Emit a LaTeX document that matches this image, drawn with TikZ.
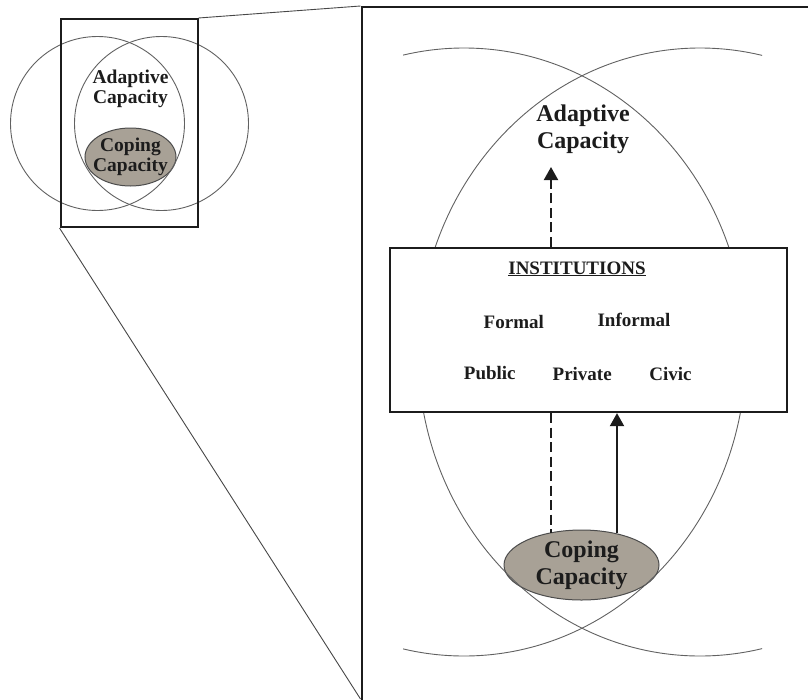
\documentclass[tikz,border=0pt]{standalone}
\usepackage{fontspec}
\setmainfont{Liberation Serif}
\usetikzlibrary{shapes.geometric,arrows.meta}
\definecolor{taupe}{HTML}{A8A196}
\definecolor{ink}{HTML}{1C1C1C}
\begin{document}
\begin{tikzpicture}[x=1pt,y=-1pt,
  circ/.style={draw=black!62, line width=0.9pt},
  frame/.style={draw=ink, line width=2.3pt, inner sep=0pt},
  link/.style={draw=black!72, line width=0.9pt},
  copfill/.style={ellipse, fill=taupe, draw=black!70, line width=1pt, inner sep=0pt},
  smalltxt/.style={font=\bfseries\fontsize{19.5}{20.5}\selectfont, align=center, inner sep=0pt, text=ink},
  bigtxt/.style={font=\bfseries\fontsize{24}{27}\selectfont, align=center, inner sep=0pt, text=ink},
  boxtxt/.style={font=\bfseries\fontsize{19}{21}\selectfont, inner sep=0pt, anchor=base, text=ink},
  flow/.style={draw=ink, line width=2pt},
  dashflow/.style={draw=ink, line width=2pt, dash pattern=on 10pt off 4.5pt},
  tip/.style={-{Triangle[length=13pt,width=14pt]}}
]
\useasboundingbox (0,0) rectangle (808,699);

% ---------- small overview ----------
\node[copfill, minimum width=91pt, minimum height=58pt] (sc) at (130.5,157) {};
\node[smalltxt] (sctxt) at (sc.center) {Coping\\Capacity};
\node[circ, circle, minimum size=174pt, inner sep=0pt] (lc) at (97.5,123.5) {};
\node[circ, circle, minimum size=174pt, inner sep=0pt] (rc) at (161.5,123.5) {};
\node[smalltxt] (satxt) at (130.5,89) {Adaptive\\Capacity};
\node[frame, line width=2pt, minimum width=137pt, minimum height=208pt, anchor=north west] (zoom) at (59.5,18) {};

% ---------- enlarged view ----------
\node[frame, minimum width=456pt, minimum height=720pt, anchor=north west] (big) at (360.5,6) {};
\coordinate (corner) at (360.5,699);
\draw[link] (zoom.north east) -- (big.north west);
\draw[link] (zoom.south west) -- (corner);

\begin{scope}
  \clip (403,0) rectangle (762,699);
  \draw[circ] (464,352) ellipse [x radius=282pt, y radius=304pt];
  \draw[circ] (700,352) ellipse [x radius=282pt, y radius=304pt];
\end{scope}

\node[frame, fill=white, minimum width=397pt, minimum height=164pt] (inst) at (588.5,330) {};
\node[boxtxt] (ttl) at (577,274) {\underline{INSTITUTIONS}};
\node[boxtxt] (formal) at (513.8,328) {Formal};
\node[boxtxt] (informal) at (634,326.7) {Informal};
\node[boxtxt] (public) at (489.8,379) {Public};
\node[boxtxt] (private) at (582.2,380) {Private};
\node[boxtxt] (civic) at (670.5,380) {Civic};

\node[bigtxt] (adapt) at (583,129) {Adaptive\\Capacity};

\begin{scope}
  \clip (403,0) rectangle (762,699);
  \path (464,352) ellipse [x radius=282pt, y radius=304pt];
\end{scope}
\node[copfill, minimum width=155pt, minimum height=70pt] (cop) at (581.5,565) {};
\node[bigtxt] (coptxt) at (cop.center) {Coping\\Capacity};
\begin{scope}
  \clip (403,0) rectangle (762,699);
  \clip (581.5,565) ellipse [x radius=77.5pt, y radius=35pt];
  \draw[circ] (464,352) ellipse [x radius=282pt, y radius=304pt];
  \draw[circ] (700,352) ellipse [x radius=282pt, y radius=304pt];
\end{scope}

\coordinate (atip) at (551,167);
\coordinate (d1) at (551,533);
\coordinate (s1) at (617,533);
\draw[dashflow, tip] (inst.north -| atip) -- (atip);
\draw[dashflow] (inst.south -| d1) -- (d1);
\draw[flow, tip] (s1) -- (inst.south -| s1);
\end{tikzpicture}
\end{document}
